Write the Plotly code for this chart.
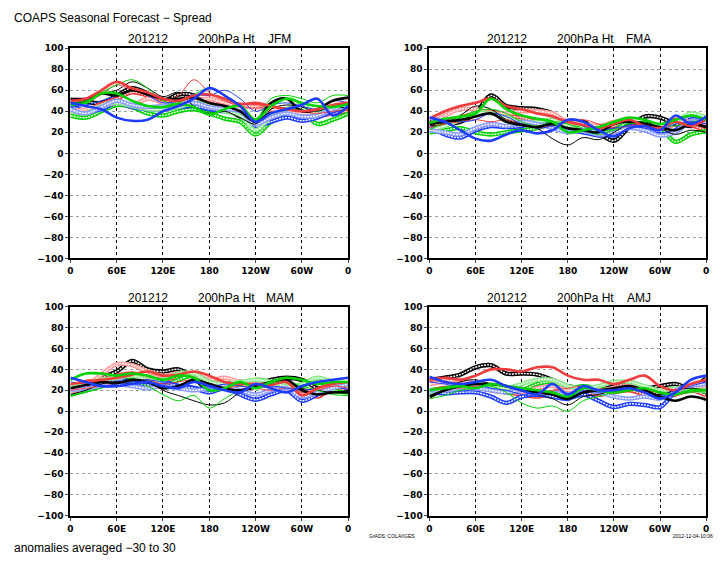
import plotly.graph_objects as go

LON = [0, 20, 40, 60, 80, 100, 120, 140, 160, 180, 200, 220, 240, 260, 280, 300, 320, 340, 360]
XTICK_VALS = [0, 60, 120, 180, 240, 300, 360]
XTICK_TEXT = ["0", "60E", "120E", "180", "120W", "60W", "0"]
YTICK_VALS = [-100, -80, -60, -40, -20, 0, 20, 40, 60, 80, 100]
SEASONS = ["JFM", "FMA", "MAM", "AMJ"]

JFM = {
    "k_circ": [50, 49, 48, 55, 62, 57, 50, 56, 55, 40, 42, 35, 28, 38, 42, 40, 36, 40, 38],
    "r_circ": [38, 40, 47, 52, 58, 55, 50, 48, 52, 50, 47, 46, 45, 42, 40, 38, 36, 38, 40],
    "g_circ": [36, 34, 40, 46, 44, 38, 36, 40, 42, 38, 33, 30, 18, 30, 38, 40, 28, 32, 38],
    "b_circ": [46, 40, 42, 48, 44, 42, 42, 44, 45, 42, 40, 38, 26, 30, 34, 31, 34, 40, 44],
    "r_lcirc": [40, 42, 45, 48, 46, 52, 48, 45, 50, 52, 48, 45, 44, 42, 40, 38, 40, 44, 47],
    "g_lcirc": [40, 38, 45, 48, 45, 42, 42, 44, 48, 46, 40, 36, 22, 35, 42, 46, 38, 42, 44],
    "b_lcirc": [42, 38, 44, 50, 46, 44, 45, 46, 48, 44, 42, 40, 28, 34, 38, 35, 36, 42, 46],
    "k_thin": [48, 50, 56, 60, 68, 62, 54, 58, 45, 38, 40, 34, 28, 42, 46, 44, 40, 45, 42],
    "r_thin": [46, 48, 56, 65, 60, 55, 50, 55, 70, 58, 50, 45, 43, 45, 42, 40, 38, 40, 42],
    "g_thin": [48, 50, 58, 65, 70, 62, 50, 48, 56, 62, 55, 45, 33, 52, 55, 52, 48, 55, 55],
    "b_thin": [44, 46, 50, 55, 60, 55, 48, 50, 56, 55, 60, 52, 40, 46, 48, 45, 42, 50, 48],
    "k_thick": [52, 52, 57, 55, 60, 56, 52, 52, 53, 48, 45, 40, 30, 48, 52, 40, 42, 50, 53],
    "r_thick": [50, 52, 60, 68, 62, 58, 52, 50, 55, 56, 52, 47, 48, 45, 42, 40, 42, 46, 48],
    "g_thick": [46, 48, 57, 57, 50, 45, 44, 47, 44, 37, 42, 45, 32, 45, 52, 48, 45, 44, 47],
    "b_thick": [48, 45, 42, 34, 31, 32, 40, 45, 52, 62, 55, 45, 30, 38, 42, 46, 52, 36, 45],
}

FMA = {
    "k_circ": [30, 28, 30, 38, 55, 45, 43, 42, 38, 28, 30, 20, 12, 25, 35, 34, 28, 26, 28],
    "r_circ": [25, 30, 34, 38, 40, 36, 34, 30, 28, 28, 26, 24, 26, 30, 30, 25, 32, 27, 22],
    "g_circ": [20, 22, 24, 20, 18, 20, 22, 24, 28, 30, 25, 20, 22, 30, 28, 25, 11, 18, 21],
    "b_circ": [26, 18, 15, 22, 26, 25, 26, 30, 26, 22, 20, 17, 18, 26, 22, 18, 22, 35, 32],
    "r_lcirc": [28, 36, 42, 42, 38, 38, 40, 40, 38, 30, 28, 26, 30, 32, 30, 26, 30, 30, 28],
    "g_lcirc": [22, 26, 32, 38, 38, 34, 30, 30, 32, 26, 22, 24, 28, 32, 30, 26, 30, 38, 34],
    "b_lcirc": [22, 20, 18, 24, 28, 26, 30, 28, 24, 20, 22, 18, 20, 24, 22, 17, 20, 30, 30],
    "k_thin": [26, 28, 36, 45, 42, 32, 28, 24, 14, 8, 15, 13, 20, 28, 30, 24, 18, 22, 20],
    "r_thin": [24, 28, 30, 32, 30, 32, 28, 24, 26, 30, 32, 28, 24, 26, 28, 22, 26, 28, 24],
    "g_thin": [22, 30, 34, 40, 42, 38, 30, 26, 30, 28, 22, 18, 22, 28, 30, 28, 26, 30, 32],
    "b_thin": [30, 32, 30, 32, 38, 35, 28, 24, 26, 30, 26, 22, 24, 26, 24, 22, 28, 30, 28],
    "k_thick": [28, 30, 32, 35, 38, 30, 27, 25, 28, 24, 22, 20, 28, 30, 28, 25, 22, 28, 25],
    "r_thick": [33, 40, 45, 48, 52, 45, 42, 38, 35, 30, 27, 24, 28, 32, 26, 24, 30, 26, 32],
    "g_thick": [29, 33, 35, 38, 52, 42, 36, 33, 30, 20, 22, 25, 30, 34, 32, 28, 32, 36, 32],
    "b_thick": [34, 30, 22, 14, 12, 18, 22, 19, 22, 32, 30, 22, 16, 24, 26, 22, 36, 28, 35],
}

MAM = {
    "k_circ": [20, 24, 32, 38, 48, 40, 38, 40, 32, 20, 25, 28, 26, 30, 32, 30, 22, 20, 22],
    "r_circ": [24, 28, 30, 34, 36, 32, 30, 33, 36, 28, 26, 28, 26, 24, 24, 20, 14, 22, 20],
    "g_circ": [16, 20, 24, 28, 30, 26, 24, 30, 34, 26, 22, 26, 30, 28, 26, 24, 30, 20, 18],
    "b_circ": [22, 24, 26, 30, 28, 25, 28, 24, 22, 18, 22, 16, 11, 16, 20, 10, 16, 24, 22],
    "r_lcirc": [18, 24, 35, 45, 44, 38, 34, 36, 35, 30, 32, 28, 26, 25, 22, 18, 20, 26, 24],
    "g_lcirc": [22, 26, 30, 32, 34, 30, 30, 36, 36, 28, 26, 28, 30, 28, 24, 26, 32, 28, 24],
    "b_lcirc": [20, 22, 24, 26, 24, 22, 24, 22, 20, 22, 24, 20, 16, 20, 22, 14, 18, 22, 26],
    "k_thin": [16, 20, 26, 28, 26, 30, 20, 15, 10, 6, 8, 18, 22, 28, 30, 22, 20, 18, 20],
    "r_thin": [20, 22, 24, 26, 28, 30, 26, 28, 30, 24, 22, 24, 22, 20, 22, 18, 20, 24, 22],
    "g_thin": [14, 18, 22, 26, 28, 24, 16, 10, 15, 3, 12, 20, 24, 26, 28, 24, 20, 16, 15],
    "b_thin": [28, 26, 24, 26, 28, 30, 28, 26, 24, 22, 26, 24, 22, 24, 22, 20, 22, 26, 28],
    "k_thick": [22, 25, 28, 27, 30, 28, 22, 24, 30, 26, 22, 20, 24, 28, 30, 20, 16, 18, 18],
    "r_thick": [26, 28, 30, 32, 35, 38, 34, 35, 38, 34, 28, 26, 26, 25, 28, 15, 22, 26, 28],
    "g_thick": [30, 36, 36, 34, 36, 34, 30, 34, 32, 20, 22, 28, 22, 28, 32, 30, 26, 28, 28],
    "b_thick": [32, 28, 24, 24, 26, 28, 24, 22, 28, 24, 20, 18, 26, 22, 18, 24, 28, 30, 32],
}

AMJ = {
    "k_circ": [30, 32, 35, 42, 44, 36, 36, 35, 30, 24, 22, 20, 24, 26, 22, 24, 26, 22, 32],
    "r_circ": [30, 30, 28, 24, 20, 18, 16, 14, 18, 20, 18, 16, 18, 20, 16, 14, 16, 20, 15],
    "g_circ": [20, 22, 24, 24, 24, 18, 20, 26, 28, 22, 24, 22, 20, 22, 20, 15, 18, 22, 18],
    "b_circ": [18, 17, 18, 18, 14, 8, 14, 16, 14, 12, 16, 10, 4, 7, 6, 4, 18, 20, 20],
    "r_lcirc": [26, 28, 30, 26, 22, 20, 18, 22, 24, 20, 22, 20, 22, 24, 20, 18, 20, 22, 24],
    "g_lcirc": [18, 20, 22, 26, 24, 22, 26, 30, 30, 24, 22, 24, 28, 28, 24, 20, 22, 20, 20],
    "b_lcirc": [20, 20, 22, 22, 20, 18, 20, 18, 18, 16, 20, 18, 14, 12, 14, 12, 20, 24, 26],
    "k_thin": [12, 20, 28, 30, 26, 24, 20, 16, 12, 6, 14, 16, 20, 22, 18, 16, 20, 22, 20],
    "r_thin": [20, 24, 22, 24, 26, 24, 20, 18, 20, 22, 24, 20, 18, 22, 20, 18, 16, 18, 20],
    "g_thin": [12, 15, 20, 22, 24, 18, 8, 3, 5, 0, 10, 14, 18, 20, 18, 14, 16, 18, 20],
    "b_thin": [28, 26, 24, 26, 22, 20, 16, 14, 16, 10, 20, 18, 20, 22, 18, 14, 20, 24, 28],
    "k_thick": [14, 20, 24, 26, 26, 24, 20, 18, 16, 12, 18, 20, 22, 24, 20, 14, 10, 14, 11],
    "r_thick": [30, 32, 30, 34, 40, 40, 38, 42, 42, 34, 30, 30, 26, 30, 34, 24, 20, 26, 30],
    "g_thick": [20, 22, 24, 22, 26, 24, 22, 20, 18, 14, 22, 20, 18, 20, 22, 18, 16, 20, 20],
    "b_thick": [33, 28, 26, 28, 30, 24, 20, 16, 26, 16, 24, 20, 20, 22, 18, 12, 18, 30, 34],
}

PANEL_DATA = [JFM, FMA, MAM, AMJ]

COLORS = {"k": "#000000", "r": "#f03c3c", "g": "#00d200", "b": "#1e3cff"}
LIGHT = {"k": "#909090", "r": "#ff9a9a", "g": "#8ae88a", "b": "#8a9cff"}

W, H = 725, 568
# panel pixel boxes: (left, right, top, bottom)
BOXES = [(68, 348, 44, 258), (430, 709, 44, 258), (68, 348, 307, 520), (430, 709, 307, 520)]

fig = go.Figure()
layout = dict(
    width=W, height=H, margin=dict(l=0, r=0, t=0, b=0),
    paper_bgcolor="white", plot_bgcolor="white", showlegend=False,
    font=dict(family="Liberation Sans, Arial, sans-serif", color="black"),
)
annotations = []


def px_x(p):
    return p / W


def px_y(p):
    return 1 - p / H


for i, (season, data) in enumerate(zip(SEASONS, PANEL_DATA)):
    n = "" if i == 0 else str(i + 1)
    xa, ya = "x" + n, "y" + n
    l, r, t, b = BOXES[i]
    for key, vals in data.items():
        c, style = key.split("_")
        if style in ("circ", "lcirc"):
            col = COLORS[c] if style == "circ" else LIGHT[c]
            fig.add_trace(go.Scatter(x=LON, y=vals, mode="lines", xaxis=xa, yaxis=ya,
                                     line=dict(color=col, width=4.4, shape="spline", smoothing=1.0),
                                     hoverinfo="skip"))
            fig.add_trace(go.Scatter(x=LON, y=vals, mode="lines", xaxis=xa, yaxis=ya,
                                     line=dict(color="white", width=1.4, shape="spline", smoothing=1.0,
                                               dash="2px,1px"),
                                     hoverinfo="skip"))
        else:
            wdt = 1.0 if style == "thin" else 2.6
            fig.add_trace(go.Scatter(x=LON, y=vals, mode="lines", xaxis=xa, yaxis=ya,
                                     line=dict(color=COLORS[c], width=wdt, shape="spline", smoothing=1.0),
                                     hoverinfo="skip"))
    layout["xaxis" + n] = dict(
        domain=[px_x(l), px_x(r)], anchor=ya, range=[0, 360],
        tickvals=XTICK_VALS, ticktext=XTICK_TEXT, ticks="outside", ticklen=3,
        tickfont=dict(size=9, family="DejaVu Sans, sans-serif", weight="bold"),
        showgrid=True, gridcolor="black", griddash="dot", gridwidth=1,
        showline=True, linecolor="black", linewidth=2, mirror=True, zeroline=False,
        fixedrange=True,
    )
    layout["yaxis" + n] = dict(
        domain=[px_y(b), px_y(t)], anchor=xa, range=[-100, 100],
        tickvals=YTICK_VALS, ticks="outside", ticklen=3,
        tickfont=dict(size=9, family="DejaVu Sans, sans-serif", weight="bold"),
        showgrid=True, gridcolor="#a0a0a0", griddash="dot", gridwidth=1,
        showline=True, linecolor="black", linewidth=2, mirror=True, zeroline=False,
        fixedrange=True,
    )
    ty = t - 9
    for txt, cx in (("201212", l + 78), ("200hPa Ht", l + 157), (season, l + 211)):
        annotations.append(dict(text=txt, x=px_x(cx), y=px_y(ty), xref="paper", yref="paper",
                                xanchor="center", yanchor="middle", showarrow=False,
                                font=dict(size=12)))

annotations.append(dict(text="COAPS Seasonal Forecast \u2212 Spread", x=px_x(9), y=px_y(13),
                        xref="paper", yref="paper", xanchor="left", yanchor="middle",
                        showarrow=False, font=dict(size=12)))
annotations.append(dict(text="anomalies averaged \u221230 to 30", x=px_x(9), y=px_y(553),
                        xref="paper", yref="paper", xanchor="left", yanchor="middle",
                        showarrow=False, font=dict(size=12)))
annotations.append(dict(text="GrADS: COLA/IGES", x=px_x(367), y=px_y(541),
                        xref="paper", yref="paper", xanchor="left", yanchor="middle",
                        showarrow=False, font=dict(size=5)))
annotations.append(dict(text="2012-12-04-10:06", x=px_x(718), y=px_y(541),
                        xref="paper", yref="paper", xanchor="right", yanchor="middle",
                        showarrow=False, font=dict(size=5)))
layout["annotations"] = annotations
fig.update_layout(**layout)
fig.write_html("out.html", config={"displayModeBar": False, "staticPlot": True},
               post_script="document.body.style.margin='0';document.body.style.overflow='hidden';")
